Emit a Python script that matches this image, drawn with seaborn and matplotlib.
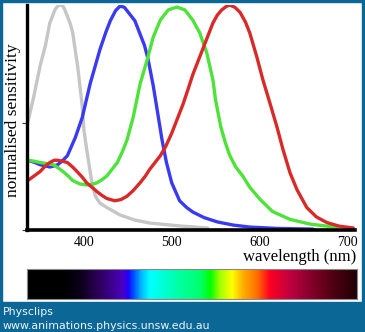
import numpy as np
import pandas as pd
import matplotlib
matplotlib.use("Agg")
import matplotlib.pyplot as plt
from matplotlib.colors import LinearSegmentedColormap
from matplotlib.patches import Rectangle
import seaborn as sns

# ---------------- data ----------------
gray_wl = [336, 342, 350, 356, 361, 367, 370, 373, 376, 378, 384, 387, 393, 398, 400, 403,
           407, 409, 413, 418, 426, 441, 458, 475, 509, 541]
gray_val = [0.48, 0.58, 0.73, 0.82, 0.92, 0.98, 0.995, 1.0, 0.995, 0.98, 0.92, 0.88, 0.72,
            0.55, 0.44, 0.36, 0.26, 0.21, 0.15, 0.12, 0.10, 0.067, 0.044, 0.031, 0.018, 0.009]

blue_wl = [336, 344, 350, 356, 361, 366, 370, 376, 381, 390, 398, 407, 418, 425, 430, 436,
           441, 446, 452, 458, 464, 469, 473, 479, 484, 489, 494, 500, 509, 517, 524, 537,
           552, 570, 589, 620, 661]
blue_val = [0.31, 0.30, 0.29, 0.285, 0.28, 0.285, 0.29, 0.31, 0.33, 0.41, 0.50, 0.65, 0.80,
            0.88, 0.93, 0.975, 0.995, 0.99, 0.96, 0.93, 0.87, 0.82, 0.76, 0.64, 0.52, 0.40,
            0.30, 0.21, 0.13, 0.10, 0.08, 0.055, 0.036, 0.022, 0.013, 0.007, 0.004]

green_wl = [336, 344, 350, 358, 365, 371, 376, 382, 387, 395, 403, 409, 415, 421, 426, 432,
            438, 444, 449, 456, 464, 472, 479, 487, 496, 506, 515, 524, 532, 540, 547, 550,
            556, 561, 566, 573, 581, 589, 601, 615, 635, 658, 688]
green_val = [0.31, 0.305, 0.30, 0.295, 0.29, 0.275, 0.26, 0.24, 0.22, 0.205, 0.20, 0.203,
             0.21, 0.225, 0.24, 0.27, 0.30, 0.35, 0.40, 0.50, 0.65, 0.756, 0.858, 0.933, 0.978,
             0.991, 0.978, 0.933, 0.876, 0.787, 0.667, 0.578, 0.458, 0.39, 0.333, 0.28, 0.24,
             0.19, 0.135, 0.082, 0.047, 0.026, 0.012]

red_wl = [336, 343, 350, 356, 361, 366, 370, 376, 381, 387, 392, 398, 403, 409, 415, 420,
          426, 435, 442, 449, 456, 464, 470, 475, 481, 487, 493, 500, 507, 513, 519, 524,
          530, 536, 542, 547, 552, 557, 562, 566, 572, 578, 584, 589, 597, 604, 612, 620,
          627, 635, 643, 654, 665, 677, 691, 707]
red_val = [0.22, 0.24, 0.26, 0.285, 0.30, 0.31, 0.31, 0.305, 0.30, 0.28, 0.26, 0.235, 0.21,
           0.19, 0.17, 0.155, 0.14, 0.13, 0.135, 0.15, 0.175, 0.21, 0.24, 0.27, 0.30, 0.33,
           0.37, 0.43, 0.50, 0.56, 0.63, 0.69, 0.75, 0.81, 0.87, 0.92, 0.955, 0.978, 0.993,
           1.0, 0.99, 0.967, 0.925, 0.876, 0.77, 0.667, 0.564, 0.458, 0.356, 0.253, 0.178,
           0.10, 0.058, 0.033, 0.017, 0.009]

x_ticks = [400, 500, 600, 700]
x_tick_labels = ["400", "500", "600", "700"]

# spectrum colour stops (wavelength nm, colour)
spec_wl = [335, 376, 395, 418, 444, 450, 455, 466, 475, 487, 509, 532, 544, 555, 569, 581,
           597, 612, 623, 635, 654, 684, 711]
spec_col = ["#000000", "#000000", "#0a0018", "#300060", "#4a00c0", "#2000ff", "#0040ff",
            "#00c0ff", "#00ffff", "#00ffe0", "#00ffa0", "#00ff70", "#00ff00", "#a0ff00",
            "#ffff00", "#ffb000", "#ff7000", "#ff0020", "#e00030", "#c00040", "#900030",
            "#500010", "#200005"]

# ---------------- figure ----------------
sns.set_style("white")
plt.rcParams["font.family"] = ["Liberation Serif", "DejaVu Serif"]

W, H = 365, 332
fig = plt.figure(figsize=(W / 100, H / 100), dpi=100)
frame_col = "#0b6795"

def fx(px):
    return px / W

def fy(py):
    return (H - py) / H

# frame and bottom band
fig.patches.append(Rectangle((0, 0), 1, fy(302), transform=fig.transFigure, color=frame_col, zorder=0))
fig.patches.append(Rectangle((0, 0), fx(2), 1, transform=fig.transFigure, color=frame_col, zorder=0))
fig.patches.append(Rectangle((fx(362), 0), 1, 1, transform=fig.transFigure, color=frame_col, zorder=0))
fig.patches.append(Rectangle((0, fy(2)), 1, 1, transform=fig.transFigure, color=frame_col, zorder=0))

ax = fig.add_axes([fx(27), fy(230), fx(355) - fx(27), fy(5) - fy(230)])

df = pd.concat([
    pd.DataFrame({"wl": gray_wl, "val": gray_val, "cone": "gray"}),
    pd.DataFrame({"wl": blue_wl, "val": blue_val, "cone": "blue"}),
    pd.DataFrame({"wl": green_wl, "val": green_val, "cone": "green"}),
    pd.DataFrame({"wl": red_wl, "val": red_val, "cone": "red"}),
])
palette = {"gray": "#c6c6c6", "blue": "#3a3af0", "green": "#4ee23a", "red": "#d92a2a"}
sns.lineplot(data=df, x="wl", y="val", hue="cone", palette=palette, sort=False,
             legend=False, linewidth=2.4, ax=ax, estimator=None)
for ln in ax.lines:
    ln.set_solid_joinstyle("round")
    ln.set_solid_capstyle("round")

ax.set_xlim(335, 709)
ax.set_ylim(0, 1.0)
ax.set_xlabel("")
ax.set_ylabel("")
ax.set_xticks(x_ticks)
ax.set_xticklabels(x_tick_labels)
ax.set_yticks([0, 0.475])
ax.set_yticklabels([])
ax.tick_params(axis="x", length=0, pad=4, labelsize=10, colors="black")
ax.tick_params(axis="y", length=3.5, width=0.8, direction="out", left=True, color="#333333")
for s in ["top", "right"]:
    ax.spines[s].set_visible(False)
ax.spines["left"].set_linewidth(2.4)
ax.spines["bottom"].set_linewidth(2.6)
ax.spines["left"].set_color("black")
ax.spines["bottom"].set_color("black")
ax.set_facecolor("white")
ax.patch.set_alpha(0)

fig.text(fx(13), fy(120), "normalised sensitivity", rotation=90, ha="center", va="center",
         fontsize=12.5, color="black")
fig.text(fx(356), fy(261), "wavelength (nm)", ha="right", va="baseline", fontsize=12,
         color="black")

# spectrum bar
bax = fig.add_axes([fx(27), fy(299), fx(357) - fx(27), fy(269) - fy(299)])
stops = [((w - spec_wl[0]) / (spec_wl[-1] - spec_wl[0]), c) for w, c in zip(spec_wl, spec_col)]
cmap = LinearSegmentedColormap.from_list("spec", stops, N=512)
grad = np.linspace(spec_wl[0], spec_wl[-1], 600)[None, :]
bax.imshow(grad, aspect="auto", cmap=cmap, extent=(spec_wl[0], spec_wl[-1], 0, 1),
           vmin=spec_wl[0], vmax=spec_wl[-1])
bax.set_xticks([])
bax.set_yticks([])
for s in bax.spines.values():
    s.set_color("#888888")
    s.set_linewidth(0.8)

fig.text(fx(3), fy(315), "Physclips", ha="left", va="baseline", fontsize=7.9,
         family="DejaVu Sans", color="#f0f4f8")
fig.text(fx(3), fy(329), "www.animations.physics.unsw.edu.au", ha="left", va="baseline",
         fontsize=7.9, family="DejaVu Sans", color="#f0f4f8")

fig.savefig("out.png", dpi=100, facecolor="white")
